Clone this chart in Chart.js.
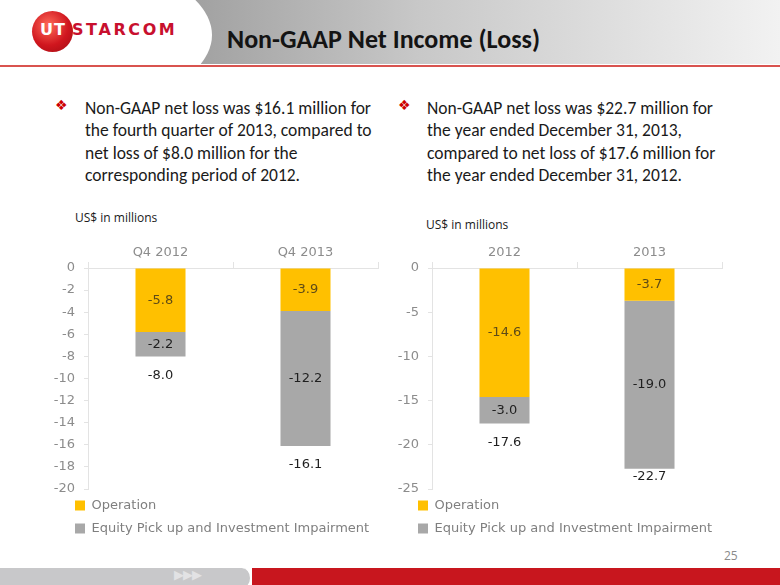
<!DOCTYPE html>
<html>
<head>
    <title>Non-GAAP Net Income (Loss)</title>
    <style>
        body { margin: 0; width: 780px; height: 585px; overflow: hidden; background: #fff; position: relative; font-family: Carlito, Lato, sans-serif; }
        .abs { position: absolute; }
        #header { left: 0; top: 0; width: 780px; height: 64px; background: linear-gradient(to right, #9c9c9c 0px, #a2a2a2 200px, #c8c8c8 420px, #f2f2f2 780px); overflow: hidden; }
        #whiteCap { left: -260px; top: -60px; width: 472px; height: 190px; border-radius: 50%; background: #fff; }
        #redLine { left: 0; top: 65px; width: 780px; height: 2px; background: #d9534f; }
        #title { left: 227px; top: 23px; font-size: 26px; font-weight: bold; color: #141414; white-space: nowrap; }
        #logoBall { left: 32px; top: 11px; width: 41px; height: 41px; border-radius: 50%; background: radial-gradient(circle at 40% 35%, #ff6b5a, #d0161e 55%, #9e0b12); }
        #logoUT { left: 40px; top: 20px; font-family: "DejaVu Sans", sans-serif; font-weight: bold; font-size: 16px; color: #fff; letter-spacing: 1px; }
        #logoText { left: 72px; top: 20px; font-family: "DejaVu Sans", sans-serif; font-weight: bold; font-size: 16px; color: #c8102e; letter-spacing: 2.6px; }
        .bullet { font-size: 17.5px; line-height: 22.3px; color: #1a1a1a; white-space: nowrap; }
        .diamond { color: #cc0000; font-size: 14px; font-family: "DejaVu Sans", sans-serif; }
        .unit { font-family: "Open Sans", sans-serif; font-size: 12px; color: #1a1a1a; }
        #pageNo { left: 724px; top: 547px; font-family: "Open Sans", sans-serif; font-size: 12px; color: #8a8a8a; }
        #footGray { left: -20px; top: 568px; width: 270px; height: 20px; background: #c8c8ca; border-radius: 0 10px 10px 0; border-right: 2px solid #fff; }
        #footRed { left: 252px; top: 568px; width: 528px; height: 17px; background: #c8161e; }
        #arrows { left: 174px; top: 567px; font-size: 13px; color: #e2e2e4; font-family: "DejaVu Sans", sans-serif; letter-spacing: -1px; }
    </style>
</head>

<body>
    <div id="header" class="abs"><div id="whiteCap" class="abs"></div></div>
    <div id="redLine" class="abs"></div>
    <div id="logoBall" class="abs"></div>
    <div id="logoUT" class="abs">UT</div>
    <div id="logoText" class="abs">STARCOM</div>
    <div id="title" class="abs">Non-GAAP Net Income (Loss)</div>

    <div class="abs diamond" style="left:55px; top:97px;">❖</div>
    <div class="abs bullet" style="left:85px; top:97px;">Non-GAAP net loss was $16.1 million for<br>the fourth quarter of 2013, compared to<br>net loss of $8.0 million for the<br>corresponding period of 2012.</div>
    <div class="abs diamond" style="left:398px; top:97px;">❖</div>
    <div class="abs bullet" style="left:427px; top:97px;">Non-GAAP net loss was $22.7 million for<br>the year ended December 31, 2013,<br>compared to net loss of $17.6 million for<br>the year ended December 31, 2012.</div>

    <div class="abs unit" style="left:75px; top:209px;">US$ in millions</div>
    <div class="abs unit" style="left:426px; top:216px;">US$ in millions</div>

    <div class="abs" style="left:40px; top:230px; width:345px; height:315px;">
        <canvas id="quarterChart"></canvas>
    </div>
    <div class="abs" style="left:390px; top:230px; width:390px; height:315px;">
        <canvas id="yearChart"></canvas>
    </div>

    <div id="pageNo" class="abs">25</div>
    <div id="footGray" class="abs"></div>
    <div id="footRed" class="abs"></div>
    <div id="arrows" class="abs">▶▶▶</div>

    <script src="https://cdn.jsdelivr.net/npm/chart.js"></script>

    <script>
        // data
        const quarterLabels = ["Q4 2012", "Q4 2013"];
        const quarterOperation = [-5.8, -3.9];
        const quarterEquity = [-2.2, -12.2];

        const yearLabels = ["2012", "2013"];
        const yearOperation = [-14.6, -3.7];
        const yearEquity = [-3.0, -19.0];

        const seriesNames = ["Operation", "Equity Pick up and Investment Impairment"];

        const tickFont = { family: "DejaVu Sans", size: 13 };
        const tickColor = "#8c8c8c";

        // segment values in the middle of each piece, total just under the bar
        const valueLabels = {
            id: "valueLabels",
            afterDatasetsDraw(chart) {
                const ctx = chart.ctx;
                const area = chart.chartArea;
                ctx.save();
                ctx.font = "13px 'DejaVu Sans'";
                ctx.textAlign = "center";
                ctx.textBaseline = "middle";
                chart.data.datasets.forEach((ds, i) => {
                    const meta = chart.getDatasetMeta(i);
                    meta.data.forEach((bar, j) => {
                        ctx.fillStyle = i === 0 ? "#5e4b17" : "#1f1f1f";
                        ctx.fillText(ds.data[j].toFixed(1), bar.x, (bar.y + bar.base) / 2);
                    });
                });
                const last = chart.getDatasetMeta(chart.data.datasets.length - 1);
                last.data.forEach((bar, j) => {
                    let total = 0;
                    chart.data.datasets.forEach(ds => total += ds.data[j]);
                    const y = Math.min(bar.y + 19, area.bottom - 12);
                    ctx.fillStyle = "#1f1f1f";
                    ctx.fillText(total.toFixed(1), bar.x, y);
                });
                ctx.restore();
            }
        };

        // legend sits a bit right of the canvas edge, left of the plot
        const legendShift = {
            id: "legendShift",
            afterLayout(chart, args, opts) {
                chart.legend.left += opts.shift;
                chart.legend.right += opts.shift;
            }
        };

        function makeChart(id, labels, operation, equity, minY, step, axisWidth, padRight, shift) {
            return new Chart(document.getElementById(id), {
                type: "bar",
                data: {
                    labels: labels,
                    datasets: [
                        { label: seriesNames[0], data: operation, backgroundColor: "#FFC000" },
                        { label: seriesNames[1], data: equity, backgroundColor: "#A8A8A8" }
                    ]
                },
                options: {
                    responsive: true,
                    maintainAspectRatio: false,
                    animation: false,
                    categoryPercentage: 1,
                    barPercentage: 0.345,
                    layout: { padding: { left: 0, right: padRight, top: 0, bottom: 0 } },
                    scales: {
                        x: {
                            stacked: true,
                            position: "top",
                            grid: { drawOnChartArea: false, color: "#e3e3e3", tickLength: 6 },
                            border: { color: "#e3e3e3" },
                            ticks: { font: tickFont, color: tickColor, padding: 2 },
                            afterFit: s => { s.height = 38; }
                        },
                        y: {
                            stacked: true,
                            min: minY,
                            max: 0,
                            grid: { drawOnChartArea: false, color: "#e3e3e3", tickLength: 4 },
                            border: { color: "#e3e3e3" },
                            ticks: { stepSize: step, font: tickFont, color: tickColor, padding: 9 },
                            afterFit: s => { s.width = axisWidth; }
                        }
                    },
                    plugins: {
                        legend: {
                            position: "bottom",
                            align: "start",
                            labels: { boxWidth: 10, boxHeight: 10, padding: 10, font: tickFont, color: "#7f7f7f" }
                        },
                        legendShift: { shift: shift },
                        tooltip: { enabled: false }
                    }
                },
                plugins: [valueLabels, legendShift]
            });
        }

        makeChart("quarterChart", quarterLabels, quarterOperation, quarterEquity, -20, 2, 48, 7, 25);
        makeChart("yearChart", yearLabels, yearOperation, yearEquity, -25, 5, 42, 58, 18);
    </script>

</body>
</html>
